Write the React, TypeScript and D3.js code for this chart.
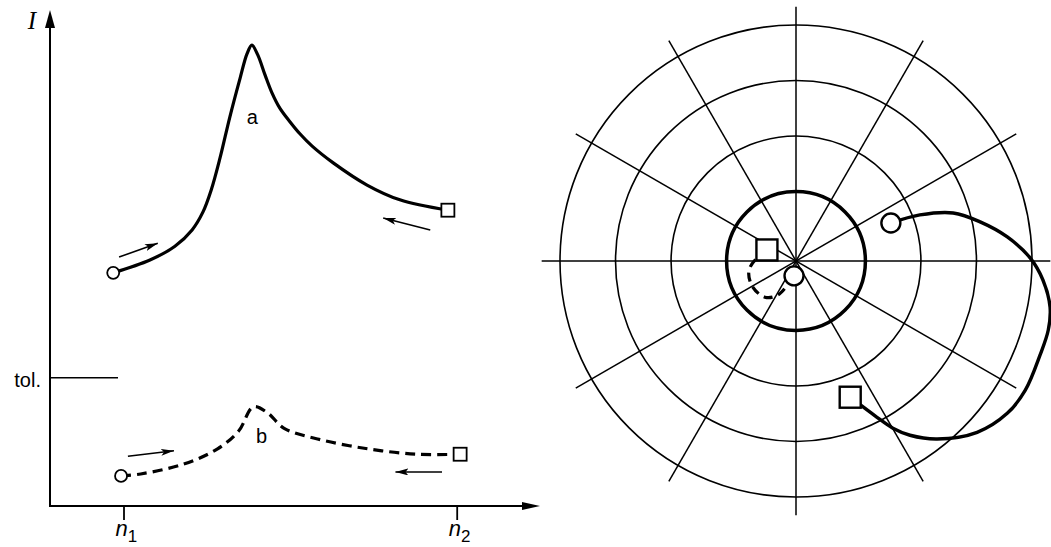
import React, { useRef, useEffect } from 'react';
import * as d3 from 'd3';

// left panel: current I against speed n (arbitrary units)
const nTicks = [1.5, 8.3];
const nTickSubs = ['1', '2'];
const tolLevel = 2.6;

const curveA_n = [1.29, 2.04, 2.55, 2.9, 3.12, 3.29, 3.47, 3.67, 3.88, 4.02, 4.12, 4.24, 4.39, 4.53, 4.69, 4.9, 5.1, 5.35, 5.78, 6.47, 7.14, 8.12];
const curveA_I = [4.73, 4.99, 5.27, 5.6, 5.96, 6.41, 7.06, 7.89, 8.68, 9.17, 9.35, 9.15, 8.74, 8.38, 8.07, 7.79, 7.55, 7.3, 6.96, 6.51, 6.21, 6.0];

const curveB_n = [1.45, 1.85, 2.73, 3.42, 3.85, 4.15, 4.44, 4.77, 5.46, 6.48, 7.49, 8.37];
const curveB_I = [0.61, 0.65, 0.85, 1.16, 1.52, 2.01, 1.89, 1.58, 1.36, 1.16, 1.05, 1.05];

// direction arrows (from -> to)
const arrowFrom_n = [1.41, 7.76, 1.59, 8.0];
const arrowFrom_I = [5.05, 5.6, 1.01, 0.69];
const arrowTo_n = [2.2, 6.8, 2.53, 7.05];
const arrowTo_I = [5.33, 5.84, 1.12, 0.69];

const curveLabels = ['a', 'b'];
const curveLabel_n = [4.13, 4.32];
const curveLabel_I = [7.75, 1.28];

// right panel: polar plot (angle in degrees ccw from east, radius in units)
const rings = [1.25, 2.25, 3.25, 4.25];
const spokeAngles = [0, 30, 60, 90, 120, 150];
const spokeLength = 4.58;

const polarSolidAngle = [21.8, 20.4, 17.0, 12.0, 6.5, 0.7, -4.4, -10.3, -15.3, -21.1, -29.4, -35.8, -43.4, -51.6, -56.8, -59.9, -62.6, -68.3];
const polarSolidRadius = [1.84, 2.38, 2.96, 3.39, 3.83, 4.22, 4.46, 4.65, 4.71, 4.71, 4.74, 4.69, 4.49, 4.09, 3.75, 3.48, 3.17, 2.64];

const polarDashAngle = [159.2, 170.5, 190.8, 209.6, 229.3, 242.1, 262.4];
const polarDashRadius = [0.56, 0.66, 0.86, 0.91, 0.86, 0.69, 0.27];

function App() {
  const svgRef = useRef<SVGSVGElement>(null);

  useEffect(() => {
    const svg = d3.select(svgRef.current);
    svg.selectAll('*').remove();

    const sans = '"Liberation Sans", Arial, sans-serif';

    const defs = svg.append('defs');
    defs.append('marker')
      .attr('id', 'head')
      .attr('viewBox', '0 0 13 7')
      .attr('refX', 13)
      .attr('refY', 3.5)
      .attr('markerWidth', 13)
      .attr('markerHeight', 7)
      .attr('markerUnits', 'userSpaceOnUse')
      .attr('orient', 'auto')
      .append('path')
      .attr('d', 'M0,0 L13,3.5 L0,7 L3,3.5 Z')
      .attr('fill', '#000');

    // ---------- left panel ----------
    const x = d3.scaleLinear().domain([0, 10]).range([50, 540]);
    const y = d3.scaleLinear().domain([0, 10]).range([506, 13]);

    const left = svg.append('g');

    // axes with arrow heads
    left.append('line')
      .attr('x1', x(0)).attr('y1', y(0) + 1)
      .attr('x2', x(0)).attr('y2', 26)
      .attr('stroke', '#000').attr('stroke-width', 2);
    left.append('path')
      .attr('d', `M${x(0)},10 L${x(0) - 5},28 L${x(0) + 5},28 Z`)
      .attr('fill', '#000');
    left.append('line')
      .attr('x1', x(0) - 1).attr('y1', y(0))
      .attr('x2', 526).attr('y2', y(0))
      .attr('stroke', '#000').attr('stroke-width', 2);
    left.append('path')
      .attr('d', `M540,${y(0)} L522,${y(0) - 4} L522,${y(0) + 4} Z`)
      .attr('fill', '#000');

    const xAxis = left.append('g')
      .attr('transform', `translate(0,${y(0)})`)
      .call(d3.axisBottom(x).tickValues(nTicks).tickSize(14).tickFormat(() => ''));
    xAxis.select('.domain').remove();
    xAxis.selectAll('line').attr('stroke', '#000').attr('stroke-width', 1.8);

    nTicks.forEach((v, i) => {
      const t = left.append('text')
        .attr('x', x(v) - 8)
        .attr('y', 536)
        .attr('font-family', sans)
        .attr('fill', '#000');
      t.append('tspan').attr('font-style', 'italic').attr('font-size', 22).text('n');
      t.append('tspan').attr('font-size', 17).attr('dy', 6).text(nTickSubs[i]);
    });

    left.append('text')
      .attr('x', 32).attr('y', 29)
      .attr('text-anchor', 'middle')
      .attr('font-family', '"Liberation Serif", "Times New Roman", serif')
      .attr('font-style', 'italic')
      .attr('font-size', 25)
      .text('I');

    // tolerance level
    left.append('line')
      .attr('x1', x(0)).attr('x2', 118)
      .attr('y1', y(tolLevel)).attr('y2', y(tolLevel))
      .attr('stroke', '#000').attr('stroke-width', 1.6);
    left.append('text')
      .attr('x', 41).attr('y', y(tolLevel) + 9)
      .attr('text-anchor', 'end')
      .attr('font-family', sans)
      .attr('font-size', 20)
      .text('tol.');

    const line = d3.line<[number, number]>()
      .x(d => x(d[0]))
      .y(d => y(d[1]))
      .curve(d3.curveCatmullRom.alpha(0.5));

    const dataA = curveA_n.map((n, i) => [n, curveA_I[i]] as [number, number]);
    const dataB = curveB_n.map((n, i) => [n, curveB_I[i]] as [number, number]);

    left.append('path')
      .attr('d', line(dataA))
      .attr('fill', 'none')
      .attr('stroke', '#000')
      .attr('stroke-width', 3.2);
    left.append('path')
      .attr('d', line(dataB))
      .attr('fill', 'none')
      .attr('stroke', '#000')
      .attr('stroke-width', 3.2)
      .attr('stroke-dasharray', '10 6');

    [dataA, dataB].forEach(d => {
      const s = d[0];
      const e = d[d.length - 1];
      left.append('circle')
        .attr('cx', x(s[0])).attr('cy', y(s[1])).attr('r', 6)
        .attr('fill', '#fff').attr('stroke', '#000').attr('stroke-width', 1.8);
      left.append('rect')
        .attr('x', x(e[0]) - 6.5).attr('y', y(e[1]) - 6.5)
        .attr('width', 13).attr('height', 13)
        .attr('fill', '#fff').attr('stroke', '#000').attr('stroke-width', 1.8);
    });

    arrowFrom_n.forEach((n, i) => {
      left.append('line')
        .attr('x1', x(n)).attr('y1', y(arrowFrom_I[i]))
        .attr('x2', x(arrowTo_n[i])).attr('y2', y(arrowTo_I[i]))
        .attr('stroke', '#000').attr('stroke-width', 1.6)
        .attr('marker-end', 'url(#head)');
    });

    curveLabels.forEach((l, i) => {
      left.append('text')
        .attr('x', x(curveLabel_n[i])).attr('y', y(curveLabel_I[i]))
        .attr('text-anchor', 'middle')
        .attr('font-family', sans)
        .attr('font-size', 20)
        .text(l);
    });

    // ---------- right panel: polar ----------
    const cx = 796;
    const cy = 261;
    const r = d3.scaleLinear().domain([0, 4.25]).range([0, 236]);
    const toRad = (deg: number) => (90 - deg) * Math.PI / 180;

    const polar = svg.append('g').attr('transform', `translate(${cx},${cy})`);

    spokeAngles.forEach(a => {
      const p1 = d3.pointRadial(toRad(a), r(spokeLength));
      const p2 = d3.pointRadial(toRad(a + 180), r(spokeLength));
      polar.append('line')
        .attr('x1', p1[0]).attr('y1', p1[1])
        .attr('x2', p2[0]).attr('y2', p2[1])
        .attr('stroke', '#000').attr('stroke-width', 1.5);
    });

    rings.forEach((v, i) => {
      polar.append('circle')
        .attr('r', r(v))
        .attr('fill', 'none')
        .attr('stroke', '#000')
        .attr('stroke-width', i === 0 ? 3.5 : 1.6);
    });

    const radial = d3.lineRadial<[number, number]>()
      .angle(d => toRad(d[0]))
      .radius(d => r(d[1]))
      .curve(d3.curveCatmullRom.alpha(0.5));

    const solid = polarSolidAngle.map((a, i) => [a, polarSolidRadius[i]] as [number, number]);
    const dashed = polarDashAngle.map((a, i) => [a, polarDashRadius[i]] as [number, number]);

    polar.append('path')
      .attr('d', radial(solid))
      .attr('fill', 'none')
      .attr('stroke', '#000')
      .attr('stroke-width', 3.4);
    polar.append('path')
      .attr('d', radial(dashed))
      .attr('fill', 'none')
      .attr('stroke', '#000')
      .attr('stroke-width', 3.2)
      .attr('stroke-dasharray', '9 6');

    // markers: solid curve runs circle -> square, dashed runs square -> circle
    const drawCircle = (d: [number, number]) => {
      const p = d3.pointRadial(toRad(d[0]), r(d[1]));
      polar.append('circle')
        .attr('cx', p[0]).attr('cy', p[1]).attr('r', 9.5)
        .attr('fill', '#fff').attr('stroke', '#000').attr('stroke-width', 2.4);
    };
    const drawSquare = (d: [number, number]) => {
      const p = d3.pointRadial(toRad(d[0]), r(d[1]));
      polar.append('rect')
        .attr('x', p[0] - 10.5).attr('y', p[1] - 10.5)
        .attr('width', 21).attr('height', 21)
        .attr('fill', '#fff').attr('stroke', '#000').attr('stroke-width', 2.4);
    };
    drawCircle(solid[0]);
    drawSquare(solid[solid.length - 1]);
    drawSquare(dashed[0]);
    drawCircle(dashed[dashed.length - 1]);
  }, []);

  return (
    <svg
      ref={svgRef}
      width={1051}
      height={547}
      style={{ position: 'absolute', left: 0, top: 0, background: '#fff' }}
    />
  );
}

export default App;
